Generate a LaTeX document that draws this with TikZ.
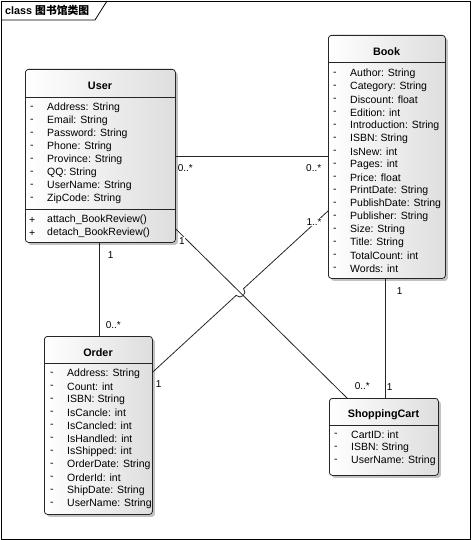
\documentclass[tikz,border=0pt]{standalone}
\usepackage{fontspec}
\setmainfont{Liberation Sans}
\newfontfamily\cjk{Noto Sans CJK SC}
\usetikzlibrary{shadows,calc}
\begin{document}
\begin{tikzpicture}[x=1pt,y=-1pt,
  font=\fontsize{10.5}{12}\selectfont,
  cls/.style={draw=black!85, line width=0.8pt, rounded corners=3pt, left color=white, right color=black!13,
    drop shadow={shadow xshift=2.5pt, shadow yshift=-2.5pt, fill=black!40, opacity=0.6},
    anchor=north west, inner sep=0pt},
  hdr/.style={font=\fontsize{10.8}{12}\selectfont\bfseries, inner sep=0pt},
  attr/.style={anchor=west, inner sep=0pt},
  sep/.style={line width=0.8pt, draw=black!85},
  conn/.style={line width=0.8pt, draw=black!85},
  mult/.style={inner sep=0.6pt, font=\fontsize{10}{12}\selectfont}
]
\useasboundingbox (0,0) rectangle (471,540);
% frame
\draw[line width=0.8pt] (1,1) rectangle (470,539);
\draw[line width=0.8pt] (1,20) -- (95,20) -- (107,1);
\node[anchor=west, inner sep=0pt, font=\fontsize{10.8}{12}\selectfont\bfseries] (title) at (5,10.5) {class {\cjk 图书馆类图}};

% User
\node[cls, minimum width=150pt, minimum height=173pt] (user) at (25,69) {};
\node[hdr] (user-h) at (100,85.5) {User};
\draw[sep] (25,97) -- (175,97);
\draw[sep] (25,209) -- (175,209);
\foreach \t [count=\i] in {Address: String,Email: String,Password: String,Phone: String,Province: String,QQ: String,UserName: String,ZipCode: String} {
  \node[attr] (user-d\i) at (30,95+13*\i) {-};
  \node[attr] (user-a\i) at (47,95+13*\i) {\t};
}
\foreach \t [count=\i] in {attach\_BookReview(),detach\_BookReview()} {
  \node[attr] (user-p\i) at (29,207+13*\i) {+};
  \node[attr] (user-m\i) at (47,207+13*\i) {\t};
}

% Book
\node[cls, minimum width=117pt, minimum height=243pt] (book) at (328,35) {};
\node[hdr] (book-h) at (386.5,51.5) {Book};
\draw[sep] (328,62) -- (445,62);
\foreach \t [count=\i] in {Author: String,Category: String,Discount: float,Edition: int,Introduction: String,ISBN: String,IsNew: int,Pages: int,Price: float,PrintDate: String,PublishDate: String,Publisher: String,Size: String,Title: String,TotalCount: int,Words: int} {
  \node[attr] (book-d\i) at (333,61+13*\i) {-};
  \node[attr] (book-a\i) at (350,61+13*\i) {\t};
}

% Order
\node[cls, minimum width=108pt, minimum height=178pt] (ordr) at (44,336) {};
\node[hdr] (ordr-h) at (98,352.5) {Order};
\draw[sep] (44,363) -- (152,363);
\foreach \t [count=\i] in {Address: String,Count: int,ISBN: String,IsCancle: int,IsCancled: int,IsHandled: int,IsShipped: int,OrderDate: String,OrderId: int,ShipDate: String,UserName: String} {
  \node[attr] (ordr-d\i) at (50,361+13*\i) {-};
  \node[attr] (ordr-a\i) at (67,361+13*\i) {\t};
}

% ShoppingCart
\node[cls, minimum width=109pt, minimum height=77pt] (cart) at (329,398) {};
\node[hdr] (cart-h) at (383.5,414.5) {ShoppingCart};
\draw[sep] (329,425) -- (438,425);
\foreach \t [count=\i] in {CartID: int,ISBN: String,UserName: String} {
  \node[attr] (cart-d\i) at (334,422+13*\i) {-};
  \node[attr] (cart-a\i) at (351,422+13*\i) {\t};
}

% connectors
\coordinate (ub) at (user.east |- 0,156);
\coordinate (bu) at (book.west |- 0,156);
\draw[conn] (ub) -- (bu);

\coordinate (uo) at (99,0 |- user.south);
\coordinate (ou) at (99,0 |- ordr.north);
\draw[conn] (uo) -- (ou);

\coordinate (uc) at (user.east |- 0,229);
\coordinate (cu) at (347,0 |- cart.north);
\draw[conn] (uc) -- (cu);

\coordinate (ob) at (ordr.east |- 0,372);
\coordinate (bo) at (book.west |- 0,211);
\draw[conn] (ob) -- ($(ob)!0.476!(bo)$) arc[start angle=222.45, end angle=402.45, radius=5pt] -- (bo);

\coordinate (bc) at (385,0 |- book.south);
\coordinate (cb) at (385,0 |- cart.north);
\draw[conn] (bc) -- (cb);

% multiplicities
\node[mult, anchor=west] (m1) at (177,168) {0..*};
\node[mult, anchor=east] (m2) at (322,168) {0..*};
\node[mult, anchor=west] (m3) at (107,255) {1};
\node[mult, anchor=west] (m4) at (105,325) {0..*};
\node[mult, fill=white] (m5) at (182,241) {1};
\node[mult, anchor=west] (m6) at (354,386) {0..*};
\node[mult, fill=white] (m7) at (314,222) {1..*};
\node[mult, anchor=west] (m8) at (155,384) {1};
\node[mult, anchor=west] (m9) at (396,291) {1};
\node[mult, anchor=west] (m10) at (386,387) {1};
\end{tikzpicture}
\end{document}
